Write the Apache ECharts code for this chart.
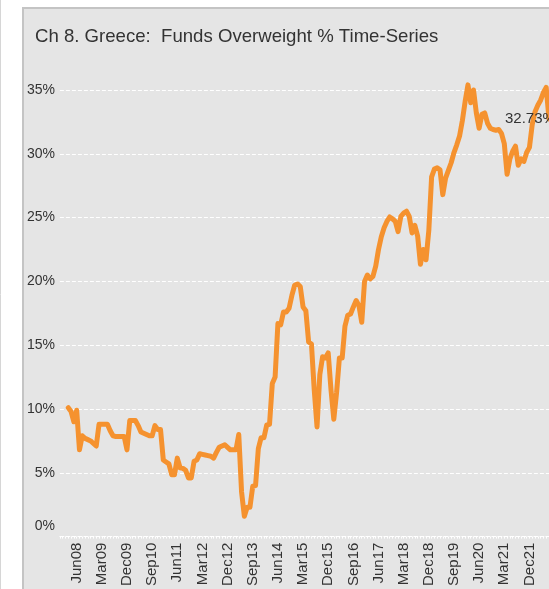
<!DOCTYPE html>
<html><head><meta charset="utf-8">
<script src="https://cdn.jsdelivr.net/npm/echarts@6/dist/echarts.min.js"></script>
<style>html,body{margin:0;padding:0;background:#fff;}#c{width:549px;height:589px;}</style>
</head><body><div id="c"></div>
<script>
const titleText = 'Ch 8. Greece:  Funds Overweight % Time-Series';
const months = [
 'Dec07',
 'Jan08','Feb08','Mar08','Apr08','May08','Jun08','Jul08','Aug08','Sep08','Oct08','Nov08','Dec08',
 'Jan09','Feb09','Mar09','Apr09','May09','Jun09','Jul09','Aug09','Sep09','Oct09','Nov09','Dec09',
 'Jan10','Feb10','Mar10','Apr10','May10','Jun10','Jul10','Aug10','Sep10','Oct10','Nov10','Dec10',
 'Jan11','Feb11','Mar11','Apr11','May11','Jun11','Jul11','Aug11','Sep11','Oct11','Nov11','Dec11',
 'Jan12','Feb12','Mar12','Apr12','May12','Jun12','Jul12','Aug12','Sep12','Oct12','Nov12','Dec12',
 'Jan13','Feb13','Mar13','Apr13','May13','Jun13','Jul13','Aug13','Sep13','Oct13','Nov13','Dec13',
 'Jan14','Feb14','Mar14','Apr14','May14','Jun14','Jul14','Aug14','Sep14','Oct14','Nov14','Dec14',
 'Jan15','Feb15','Mar15','Apr15','May15','Jun15','Jul15','Aug15','Sep15','Oct15','Nov15','Dec15',
 'Jan16','Feb16','Mar16','Apr16','May16','Jun16','Jul16','Aug16','Sep16','Oct16','Nov16','Dec16',
 'Jan17','Feb17','Mar17','Apr17','May17','Jun17','Jul17','Aug17','Sep17','Oct17','Nov17','Dec17',
 'Jan18','Feb18','Mar18','Apr18','May18','Jun18','Jul18','Aug18','Sep18','Oct18','Nov18','Dec18',
 'Jan19','Feb19','Mar19','Apr19','May19','Jun19','Jul19','Aug19','Sep19','Oct19','Nov19','Dec19',
 'Jan20','Feb20','Mar20','Apr20','May20','Jun20','Jul20','Aug20','Sep20','Oct20','Nov20','Dec20',
 'Jan21','Feb21','Mar21','Apr21','May21','Jun21','Jul21','Aug21','Sep21','Oct21','Nov21','Dec21',
 'Jan22','Feb22','Mar22','Apr22','May22','Jun22','Jul22'
];
const tickLabels = ['Jun08','Mar09','Dec09','Sep10','Jun11','Mar12','Dec12','Sep13','Jun14','Mar15','Dec15','Sep16','Jun17','Mar18','Dec18','Sep19','Jun20','Mar21','Dec21'];
const overweightPct = [
 null,null,null,
 10.1,9.8,9.0,9.9,6.8,7.9,7.7,7.6,7.5,7.3,7.1,8.8,8.8,8.8,8.8,8.3,7.9,7.85,7.85,7.85,7.85,6.8,
 9.1,9.1,9.1,8.7,8.2,8.1,8.0,7.9,7.9,8.7,8.4,8.4,6.0,5.85,5.7,4.85,4.85,6.15,5.4,5.35,5.2,4.6,
 4.6,5.9,6.0,6.5,6.45,6.4,6.35,6.3,6.15,6.6,7.0,7.1,7.2,7.0,6.8,6.8,6.8,8.0,3.5,1.6,2.3,2.3,
 3.95,4.0,6.9,7.75,7.75,8.75,8.8,12.0,12.5,16.7,16.6,17.6,17.6,17.9,18.9,19.7,19.8,19.6,18.0,17.7,
 15.25,15.1,11.5,8.6,12.7,14.1,14.0,14.4,11.5,9.2,11.3,14.0,14.0,16.5,17.35,17.45,18.0,18.5,18.1,16.8,
 20.0,20.5,20.2,20.4,21.2,22.5,23.5,24.2,24.7,25.05,24.9,24.7,23.9,25.1,25.35,25.5,25.1,23.8,24.4,23.55,
 21.35,22.5,21.7,24.0,28.2,28.8,28.9,28.75,26.8,28.1,28.7,29.3,30.1,30.7,31.4,32.6,34.1,35.4,34.0,35.0,
 33.2,32.0,33.1,33.2,32.4,32.0,31.9,31.85,31.9,31.6,30.8,28.4,29.6,30.2,30.6,29.1,29.6,29.4,30.1,30.5,
 32.3,33.3,33.8,34.2,34.8,35.2,32.73
];
const yTicks = [0,5,10,15,20,25,30,35];

const FONT = 'Liberation Sans';
const lastValue = overweightPct[overweightPct.length - 1];

const chart = echarts.init(document.getElementById('c'), null, {renderer: 'canvas'});
chart.setOption({
  animation: false,
  backgroundColor: '#ffffff',
  graphic: [
    {type: 'line', shape: {x1: 0.5, y1: 0, x2: 0.5, y2: 589}, style: {stroke: '#d6d6d6', lineWidth: 1}, z: -10, silent: true},
    {type: 'rect', shape: {x: 23, y: 8, width: 560, height: 600}, style: {fill: '#e5e5e5', stroke: '#c4c4c4', lineWidth: 2}, z: -10, silent: true}
  ],
  title: {
    text: titleText, left: 30, top: 22,
    textStyle: {fontFamily: FONT, fontSize: 18.6, fontWeight: 'normal', color: '#333'}
  },
  grid: {left: 59.9, right: -1, top: 90, bottom: 50, containLabel: false},
  xAxis: {
    type: 'category', data: months, boundaryGap: false,
    axisLine: {show: true, lineStyle: {color: '#ffffff', type: 'dashed', width: 1}},
    axisTick: {show: true, interval: 0, length: 2, lineStyle: {color: '#ffffff'}},
    axisLabel: {
      interval: (idx, val) => tickLabels.indexOf(val) >= 0,
      rotate: 90, margin: 6, color: '#333', fontSize: 15, fontFamily: FONT
    },
    splitLine: {show: false}
  },
  yAxis: {
    type: 'value', min: 0, max: 35, interval: 5,
    axisLine: {show: false}, axisTick: {show: false},
    axisLabel: {
      margin: 5, color: '#333', fontSize: 14, fontFamily: FONT,
      formatter: v => (yTicks.indexOf(v) >= 0 ? (v === 0 ? '{z|0%}' : v + '%') : ''),
      rich: {z: {color: '#333', fontSize: 14, fontFamily: FONT, padding: [0, 0, 20, 0]}}
    },
    splitLine: {show: true, lineStyle: {color: '#ffffff', type: 'dashed', width: 1}}
  },
  series: [{
    type: 'line', data: overweightPct, clip: false, connectNulls: false,
    showSymbol: false, symbol: 'none',
    lineStyle: {color: '#F5922F', width: 5, join: 'round', cap: 'round'},
    itemStyle: {color: '#F5922F'},
    endLabel: {
      show: true, formatter: lastValue.toFixed(2) + '%', distance: 5, offset: [-49, 0],
      color: '#333', fontSize: 15, fontFamily: FONT
    },
    labelLayout: {hideOverlap: false}
  }]
});
</script></body></html>
